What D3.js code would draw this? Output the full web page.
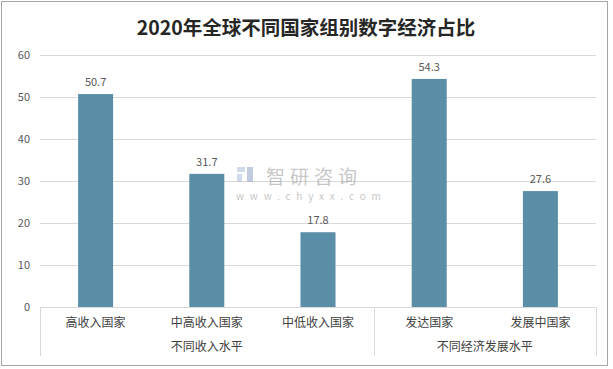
<!DOCTYPE html>
<html><head><meta charset="utf-8">
<script src="https://cdn.jsdelivr.net/npm/d3@7"></script>
<style>body{margin:0;background:#fff}svg{display:block}</style>
</head><body>
<svg id="c" width="613" height="369"></svg>
<script>
const title = "2020年全球不同国家组别数字经济占比";
const categories = ["高收入国家","中高收入国家","中低收入国家","发达国家","发展中国家"];
const values = [50.7, 31.7, 17.8, 54.3, 27.6];
const groups = ["不同收入水平","不同收入水平","不同收入水平","不同经济发展水平","不同经济发展水平"];
const groupNames = ["不同收入水平","不同经济发展水平"];
const yTicks = [0,10,20,30,40,50,60];

(function(){
const svg = d3.select("#c");
const font = "'Noto Sans CJK SC','Microsoft YaHei',sans-serif";
svg.append("rect").attr("x",1.5).attr("y",1.5).attr("width",606).attr("height",364)
  .attr("fill","#fff").attr("stroke","#a6a6a6").attr("stroke-width",1);

svg.append("text").attr("x",306).attr("y",35).attr("text-anchor","middle")
  .attr("font-family",font).attr("font-weight","bold").attr("font-size",19.5)
  .attr("fill","#262626").text(title);

const pl=40,pr=596,pt=55,pb=307;
const x = d3.scaleBand().domain(categories).range([pl,pr]).paddingInner(0.685).paddingOuter(0.3425);
const y = d3.scaleLinear().domain([0,60]).range([pb,pt]);

svg.append("g").selectAll("line").data(yTicks.filter(d=>d>0)).join("line")
  .attr("x1",pl).attr("x2",pr).attr("y1",d=>Math.round(y(d))+0.5).attr("y2",d=>Math.round(y(d))+0.5)
  .attr("stroke","#d9d9d9");

const ya = svg.append("g").attr("transform",`translate(${pl},0)`)
  .call(d3.axisLeft(y).tickValues(yTicks).tickSize(0).tickPadding(10));
ya.select(".domain").remove();
ya.selectAll("text").attr("font-family",font).attr("font-size",11).attr("fill","#595959");

svg.append("g").selectAll("rect").data(values).join("rect")
  .attr("x",(d,i)=>x(categories[i])).attr("width",x.bandwidth())
  .attr("y",d=>y(d)).attr("height",d=>pb-y(d)).attr("fill","#5b8fa7");

svg.append("g").selectAll("text").data(values).join("text")
  .attr("x",(d,i)=>x(categories[i])+x.bandwidth()/2).attr("y",d=>y(d)-8)
  .attr("text-anchor","middle").attr("font-family",font).attr("font-size",11).attr("fill","#595959")
  .text(d=>d.toFixed(1));

const axisG = svg.append("g");
axisG.append("line").attr("x1",pl).attr("x2",pr).attr("y1",pb+0.5).attr("y2",pb+0.5).attr("stroke","#d9d9d9");
const step = x.step();
const groupBounds = groupNames.map(g=>{
  const idx = categories.map((c,i)=>i).filter(i=>groups[i]===g);
  const x0 = x(categories[idx[0]]) - step*x.paddingInner()/2;
  const x1 = x(categories[idx[idx.length-1]]) + x.bandwidth() + step*x.paddingInner()/2;
  return {g,x0,x1};
});
const seps = [pl, ...groupBounds.slice(0,-1).map(b=>b.x1), pr];
axisG.selectAll("line.sep").data(seps).join("line").attr("class","sep")
  .attr("x1",d=>Math.round(d)+0.5).attr("x2",d=>Math.round(d)+0.5).attr("y1",pb).attr("y2",356)
  .attr("stroke","#d9d9d9");
axisG.selectAll("text.cat").data(categories).join("text").attr("class","cat")
  .attr("x",d=>x(d)+x.bandwidth()/2).attr("y",327).attr("text-anchor","middle")
  .attr("font-family",font).attr("font-size",12).attr("fill","#404040").text(d=>d);
axisG.selectAll("text.grp").data(groupBounds).join("text").attr("class","grp")
  .attr("x",d=>(d.x0+d.x1)/2).attr("y",351).attr("text-anchor","middle")
  .attr("font-family",font).attr("font-size",12).attr("fill","#404040").text(d=>d.g);

const wm = svg.append("g").attr("opacity",0.55);
wm.append("rect").attr("x",237).attr("y",167).attr("width",8).attr("height",5).attr("fill","#a9bde0");
wm.append("rect").attr("x",237).attr("y",174).attr("width",5).attr("height",8).attr("fill","#a9bde0");
wm.append("rect").attr("x",247).attr("y",167).attr("width",6).attr("height",15).attr("fill","#8fa3c8");
wm.append("text").attr("x",266).attr("y",184).attr("font-family",font).attr("font-size",19)
  .attr("fill","#9a9a9a").attr("letter-spacing",5).text("智研咨询");
wm.append("text").attr("x",236).attr("y",200).attr("font-family",font).attr("font-size",10)
  .attr("fill","#9a9a9a").attr("letter-spacing",5.8).text("www.chyxx.com");
})();
</script>
</body></html>
